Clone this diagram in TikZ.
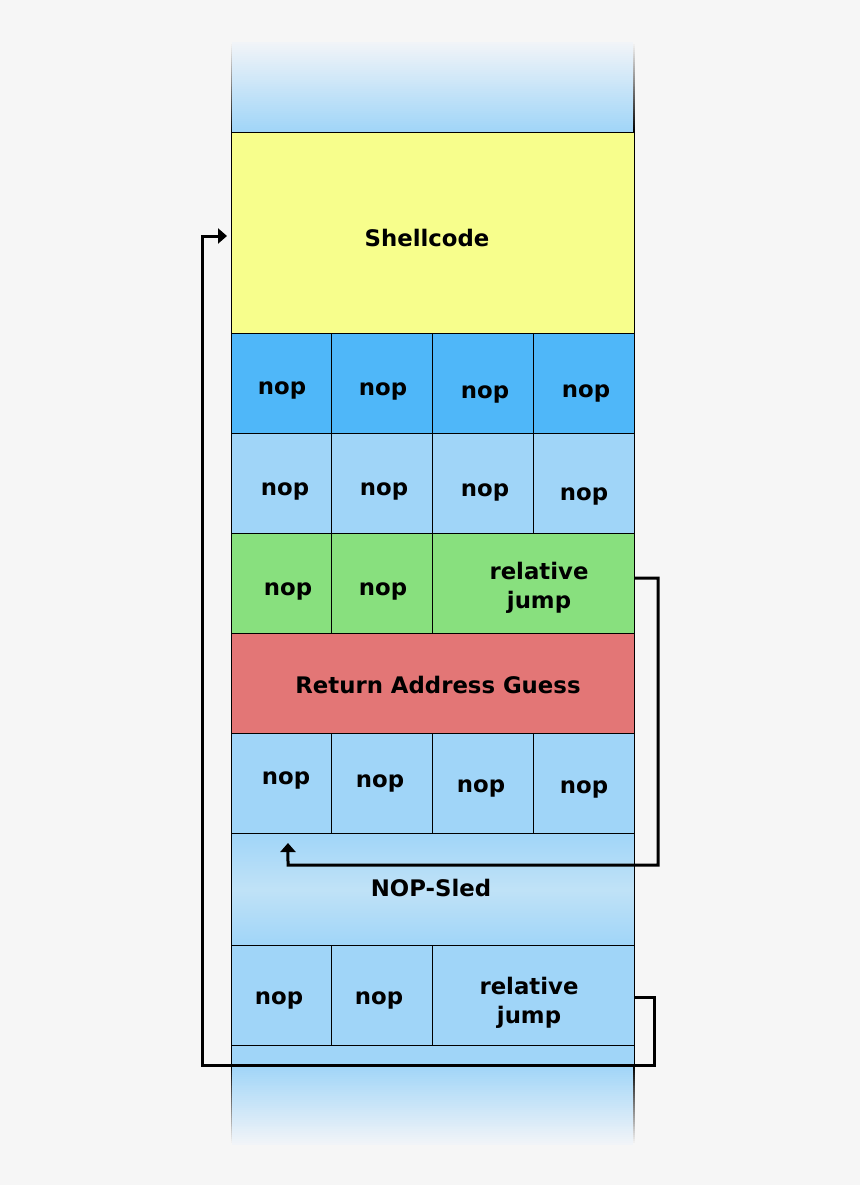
\documentclass[tikz,border=0pt]{standalone}
\usepackage{fontspec}
\setmainfont{DejaVu Sans}
\usetikzlibrary{arrows.meta}
\definecolor{bg}{HTML}{F6F6F6}
\definecolor{fadetop}{HTML}{F1F4F8}
\definecolor{yel}{HTML}{F7FE8C}
\definecolor{dblue}{HTML}{4FB7F9}
\definecolor{lblue}{HTML}{A0D5F8}
\definecolor{sledmid}{HTML}{C0E2F7}
\definecolor{grn}{HTML}{88E07E}
\definecolor{rd}{HTML}{E37676}
\begin{document}
\begin{tikzpicture}[x=1pt,y=-1pt,
  cell/.style={draw=black, line width=1pt, inner sep=0pt, outer sep=0pt,
               minimum width=100.75pt, minimum height=100pt},
  wide/.style={cell, minimum width=403pt},
  half/.style={cell, minimum width=201.5pt},
  lbl/.style={font=\fontsize{22.8}{29}\selectfont\bfseries, align=center, inner sep=0pt},
  jump/.style={line width=3pt, -{Triangle[length=9pt,width=15pt]}}]
\fill[bg] (0,0) rectangle (860,1185);
\useasboundingbox (0,0) rectangle (860,1185);
% top fade (42 -> 133): light at top, blue at bottom
\foreach \i in {0,...,45}{
  \pgfmathsetmacro\p{100*\i/45}
  \fill[lblue!\p!fadetop] (231,{42+91*\i/46}) rectangle (634,{42+91*(\i+1)/46+0.4});
  \fill[black!\p!bg] (230.5,{42+91*\i/46}) rectangle (231.6,{42+91*(\i+1)/46+0.4});
  \fill[black!\p!bg] (633.4,{42+91*\i/46}) rectangle (634.5,{42+91*(\i+1)/46+0.4});
}
% bottom fade (1065 -> 1145): blue at top, light at bottom
\foreach \i in {0,...,40}{
  \pgfmathsetmacro\p{100-100*\i/40}
  \fill[lblue!\p!fadetop] (231,{1065+80*\i/41}) rectangle (634,{1065+80*(\i+1)/41+0.4});
  \fill[black!\p!bg] (230.5,{1065+80*\i/41}) rectangle (231.6,{1065+80*(\i+1)/41+0.4});
  \fill[black!\p!bg] (633.4,{1065+80*\i/41}) rectangle (634.5,{1065+80*(\i+1)/41+0.4});
}
% shellcode
\node[wide, fill=yel, minimum height=200pt] (shell) at (432.5,233) {};
% row 1
\node[cell, fill=dblue] (c11) at (281.375,383) {};
\node[cell, fill=dblue] (c12) at (382.125,383) {};
\node[cell, fill=dblue] (c13) at (482.875,383) {};
\node[cell, fill=dblue] (c14) at (583.625,383) {};
% row 2
\node[cell, fill=lblue] (c21) at (281.375,483) {};
\node[cell, fill=lblue] (c22) at (382.125,483) {};
\node[cell, fill=lblue] (c23) at (482.875,483) {};
\node[cell, fill=lblue] (c24) at (583.625,483) {};
% row 3
\node[cell, fill=grn] (c31) at (281.375,583) {};
\node[cell, fill=grn] (c32) at (382.125,583) {};
\node[half, fill=grn] (rj1) at (533.25,583) {};
% return address
\node[wide, fill=rd] (ret) at (432.5,683) {};
% row 5
\node[cell, fill=lblue] (c51) at (281.375,783) {};
\node[cell, fill=lblue] (c52) at (382.125,783) {};
\node[cell, fill=lblue] (c53) at (482.875,783) {};
\node[cell, fill=lblue] (c54) at (583.625,783) {};
% sled
\node[wide, minimum height=112pt, top color=lblue, bottom color=lblue, middle color=sledmid] (sled) at (432.5,889) {};
% row 7
\node[cell, fill=lblue] (c71) at (281.375,995) {};
\node[cell, fill=lblue] (c72) at (382.125,995) {};
\node[half, fill=lblue] (rj2) at (533.25,995) {};
% strip
\node[wide, fill=lblue, minimum height=20pt] (strip) at (432.5,1055) {};
% labels
\node[lbl] (t0) at (427,238) {Shellcode};
\node[lbl] (t11) at (282,390) {nop};
\node[lbl] (t12) at (383,391) {nop};
\node[lbl] (t13) at (485,394) {nop};
\node[lbl] (t14) at (586,393) {nop};
\node[lbl] (t21) at (285,491) {nop};
\node[lbl] (t22) at (384,491) {nop};
\node[lbl] (t23) at (485,492) {nop};
\node[lbl] (t24) at (584,496) {nop};
\node[lbl] (t31) at (288,591) {nop};
\node[lbl] (t32) at (383,591) {nop};
\node[lbl] (t33) at (539,588) {relative\\jump};
\node[lbl] (t4) at (438,685) {Return Address Guess};
\node[lbl] (t51) at (286,780) {nop};
\node[lbl] (t52) at (380,783) {nop};
\node[lbl] (t53) at (481,788) {nop};
\node[lbl] (t54) at (584,789) {nop};
\node[lbl] (t6) at (431,888) {NOP-Sled};
\node[lbl] (t71) at (279,1000) {nop};
\node[lbl] (t72) at (379,1000) {nop};
\node[lbl] (t73) at (529,1003) {relative\\jump};
% jumps
\coordinate (a1) at (658,865);
\coordinate (a2) at (288,865);
\draw[jump] ([yshift=5pt]rj1.east) -| (a1) -- (a2) -- ([shift={(6.6,10)}]c51.south);
\coordinate (b1) at (654,1065);
\coordinate (b2) at (202,1065);
\draw[jump] ([yshift=-2pt]rj2.east) -| (b1) -- (b2) |- ([shift={(-4,3)}]shell.west);
\end{tikzpicture}
\end{document}
